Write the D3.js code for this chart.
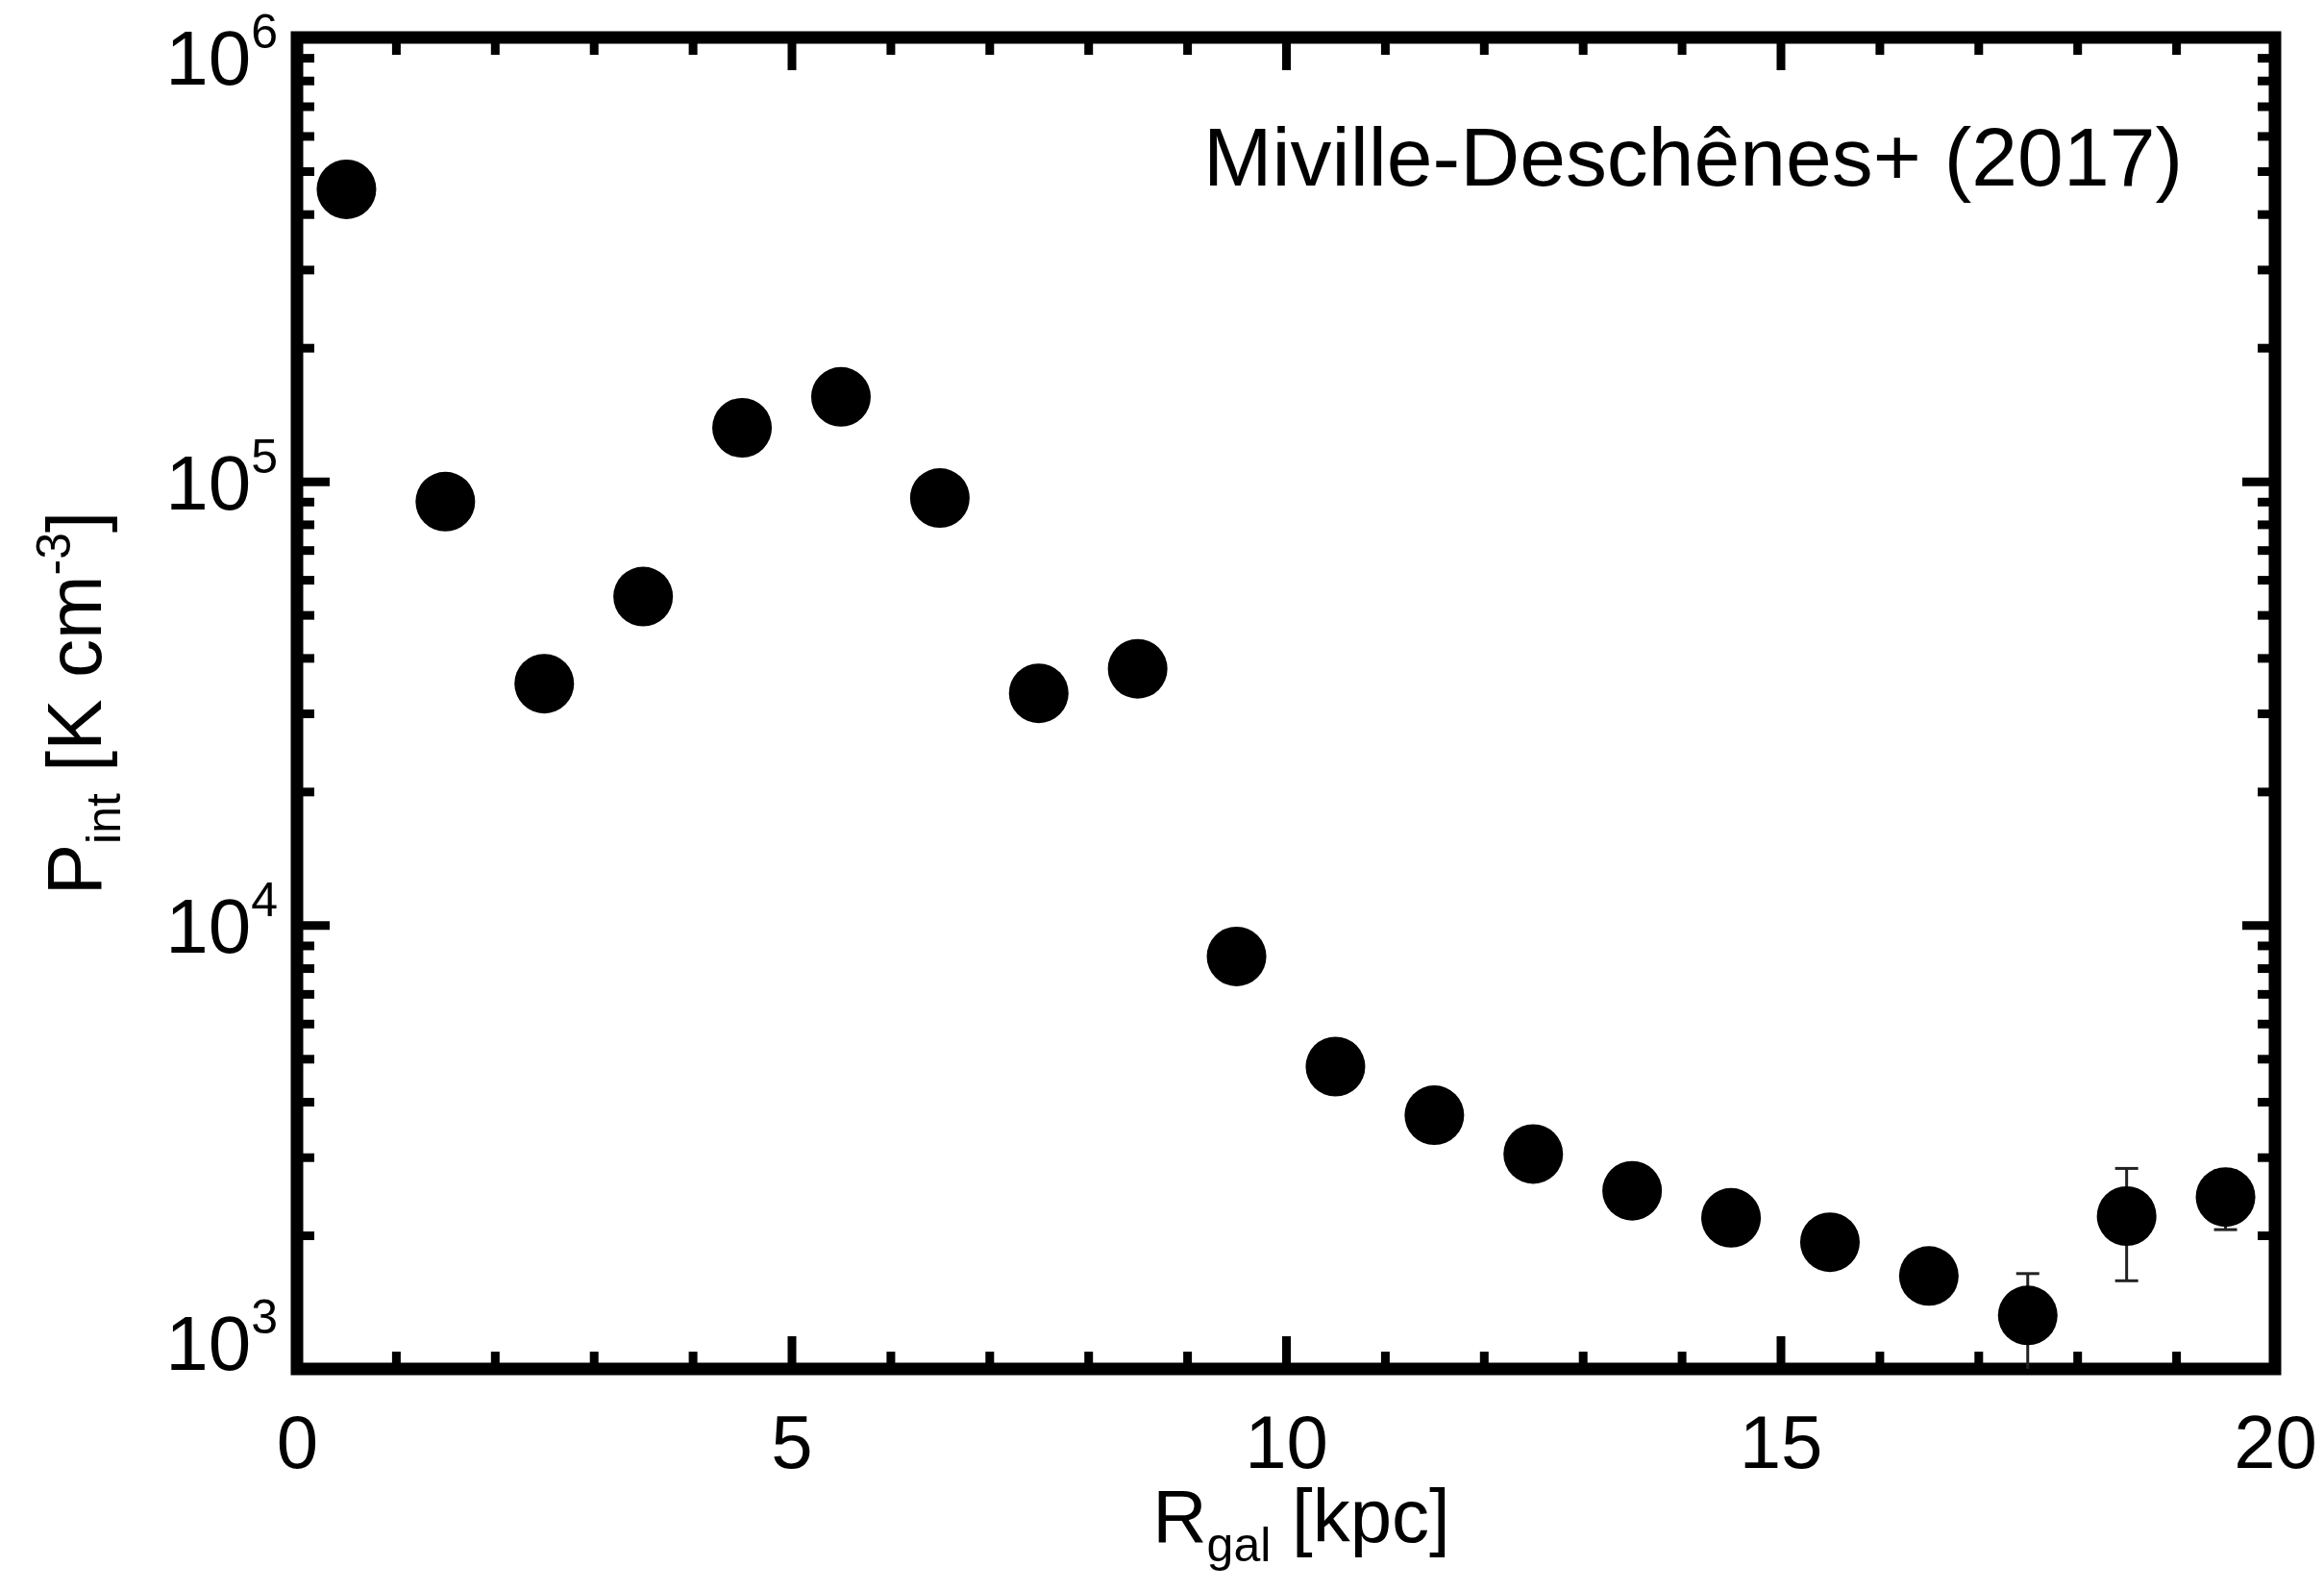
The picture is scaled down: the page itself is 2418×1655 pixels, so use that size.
<!DOCTYPE html>
<html>
<head>
<meta charset="utf-8">
<script src="https://cdn.jsdelivr.net/npm/d3@7"></script>
<style>
  html, body { margin: 0; padding: 0; background: #fff; }
  svg { display: block; }
  text { font-family: "Liberation Sans", Helvetica, Arial, sans-serif; fill: #000; }
</style>
</head>
<body>
<svg id="chart" width="2418" height="1655"></svg>
<script>
// galactocentric radius bins [kpc]
const radius = [0.5, 1.5, 2.5, 3.5, 4.5, 5.5, 6.5, 7.5, 8.5, 9.5,
                10.5, 11.5, 12.5, 13.5, 14.5, 15.5, 16.5, 17.5, 18.5, 19.5];
// internal pressure [K cm^-3]
const pressure = [4.55e5, 9.0e4, 3.5e4, 5.5e4, 1.32e5, 1.55e5, 9.17e4, 3.33e4, 3.78e4, 8.5e3,
                  4.8e3, 3.73e3, 3.05e3, 2.52e3, 2.19e3, 1.93e3, 1.62e3, 1.32e3, 2.21e3, 2.44e3];
// error bars (only the ones that show outside the markers)
const errLow  = [null, null, null, null, null, null, null, null, null, null,
                 null, null, null, null, null, null, null, 900, 1580, 2060];
const errHigh = [null, null, null, null, null, null, null, null, null, null,
                 null, null, null, null, null, null, null, 1640, 2830, 2800];

const xTicks = [0, 5, 10, 15, 20];
const xMinor = [1, 2, 3, 4, 6, 7, 8, 9, 11, 12, 13, 14, 16, 17, 18, 19];
const yTicks = [1e3, 1e4, 1e5, 1e6];
const yExp = ["3", "4", "5", "6"];
const note = "Miville-Deschênes+ (2017)";

const svg = d3.select("#chart")
  , x0 = 309, x1 = 2367, y0 = 1424, y1 = 39;

const x = d3.scaleLinear().domain([0, 20]).range([x0, x1])
  , y = d3.scaleLog().domain([1e3, 1e6]).range([y0, y1]);

// log minor ticks: 2..9 in every decade
const yMinor = [];
yTicks.slice(0, -1).forEach(d => { for (let k = 2; k < 10; k++) yMinor.push(d * k); });

const tickAxis = (axis, tr, len) => {
  svg.append("g").attr("transform", tr)
    .call(axis.tickSize(-len).tickFormat(""))
    .call(g => g.select(".domain").remove())
    .selectAll("line").attr("stroke", "#000").attr("stroke-width", 9);
};

// ticks on all four sides, pointing in
[[xTicks, 34], [xMinor, 18]].forEach(([v, len]) => {
  tickAxis(d3.axisBottom(x).tickValues(v), `translate(0,${y0})`, len);
  tickAxis(d3.axisTop(x).tickValues(v), `translate(0,${y1})`, len);
});
[[yTicks, 34], [yMinor, 18]].forEach(([v, len]) => {
  tickAxis(d3.axisLeft(y).tickValues(v), `translate(${x0},0)`, len);
  tickAxis(d3.axisRight(y).tickValues(v), `translate(${x1},0)`, len);
});

// frame
svg.append("rect")
  .attr("x", x0).attr("y", y1).attr("width", x1 - x0).attr("height", y0 - y1)
  .attr("fill", "none").attr("stroke", "#000").attr("stroke-width", 13);

// x tick labels
svg.append("g").attr("transform", `translate(0,${y0})`)
  .call(d3.axisBottom(x).tickValues(xTicks).tickSize(0).tickPadding(48).tickFormat(d3.format("d")))
  .call(g => g.select(".domain").remove())
  .selectAll("text").attr("font-size", 78).attr("font-family", null).attr("fill", "#000");

// y tick labels, kept inside the frame's height
svg.append("g").selectAll("text").data(yTicks).enter().append("text")
  .attr("text-anchor", "end")
  .attr("x", 289)
  .attr("y", d => Math.min(Math.max(y(d), y1 + 20), y0 - 28) + 29)
  .attr("font-size", 80)
  .each(function(d, i) {
    const t = d3.select(this);
    t.append("tspan").text("10");
    t.append("tspan").attr("dy", -38).attr("font-size", 50).text(yExp[i]);
  });

// axis titles
const xt = svg.append("text").attr("text-anchor", "middle")
  .attr("x", (x0 + x1) / 2 + 16).attr("y", 1604).attr("font-size", 78);
xt.append("tspan").text("R");
xt.append("tspan").attr("dy", 20).attr("font-size", 50).text("gal");
xt.append("tspan").attr("dy", -20).text(" [kpc]");

const yt = svg.append("text").attr("text-anchor", "middle")
  .attr("transform", `translate(105,${(y0 + y1) / 2}) rotate(-90)`).attr("font-size", 80);
yt.append("tspan").text("P");
yt.append("tspan").attr("dy", 20).attr("font-size", 50).text("int");
yt.append("tspan").attr("dy", -20).text(" [K cm");
yt.append("tspan").attr("dy", -32).attr("font-size", 50).text("-3");
yt.append("tspan").attr("dy", 32).text("]");

// annotation (light face)
svg.append("text").attr("text-anchor", "end")
  .attr("x", 2271).attr("y", 193)
  .attr("font-family", "Inter, 'Liberation Sans', sans-serif").attr("font-weight", 300)
  .attr("font-size", 86).attr("textLength", 1019).attr("lengthAdjust", "spacingAndGlyphs")
  .text(note);

// data
svg.append("clipPath").attr("id", "plot")
  .append("rect").attr("x", x0).attr("y", y1).attr("width", x1 - x0).attr("height", y0 - y1);

const pts = radius.map((r, i) => ({ r: r, p: pressure[i], lo: errLow[i], hi: errHigh[i] }));
const eb = svg.append("g").attr("clip-path", "url(#plot)")
  .attr("stroke", "#222").attr("stroke-width", 3)
  .selectAll("g").data(pts.filter(d => d.lo != null)).enter().append("g");
eb.append("line")
  .attr("x1", d => x(d.r)).attr("x2", d => x(d.r))
  .attr("y1", d => y(d.lo)).attr("y2", d => y(d.hi));
eb.selectAll("line.cap").data(d => [[d.r, d.lo], [d.r, d.hi]]).enter().append("line")
  .attr("class", "cap")
  .attr("x1", d => x(d[0]) - 12).attr("x2", d => x(d[0]) + 12)
  .attr("y1", d => y(d[1])).attr("y2", d => y(d[1]));

svg.append("g").selectAll("circle").data(pts).enter().append("circle")
  .attr("cx", d => x(d.r)).attr("cy", d => y(d.p)).attr("r", 31).attr("fill", "#000");
</script>
</body>
</html>
